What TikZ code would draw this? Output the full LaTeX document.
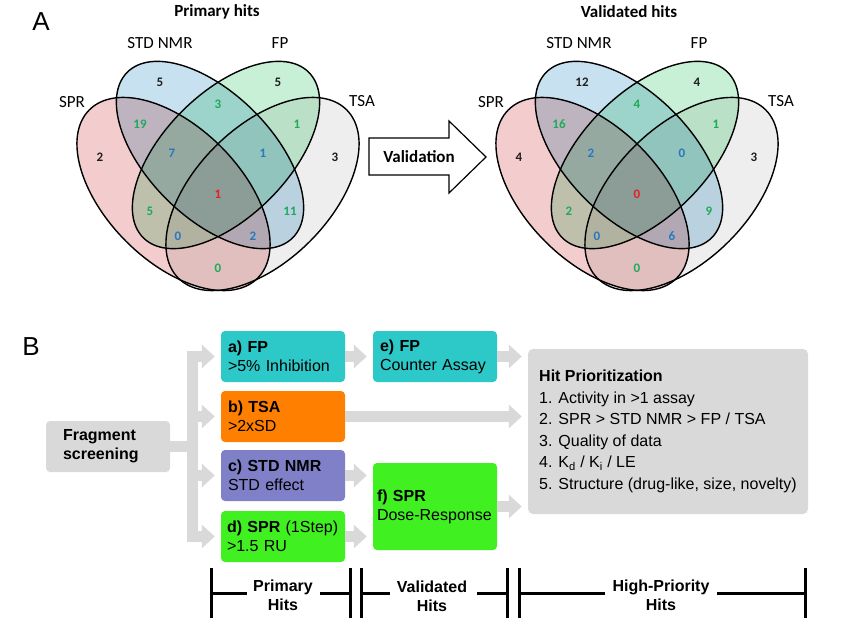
\documentclass[tikz,border=0pt]{standalone}
\usepackage{fontspec}
\setmainfont{Liberation Sans}
\newfontfamily\calfont{Carlito}
\usetikzlibrary{arrows.meta}
\definecolor{cSPR}{RGB}{243,205,205}
\definecolor{cSTD}{RGB}{200,225,240}
\definecolor{cFP}{RGB}{200,240,215}
\definecolor{cTSA}{RGB}{238,238,238}
\definecolor{ngreen}{RGB}{30,170,90}
\definecolor{nblue}{RGB}{40,120,190}
\definecolor{nred}{RGB}{230,30,40}
\definecolor{nblack}{RGB}{30,30,30}
\definecolor{boxteal}{RGB}{45,200,200}
\definecolor{boxorange}{RGB}{255,128,0}
\definecolor{boxpurple}{RGB}{128,128,200}
\definecolor{boxgreen}{RGB}{64,240,32}
\definecolor{boxgray}{RGB}{217,217,217}
\definecolor{arrowgray}{RGB}{217,217,217}
\newcommand\vennshapes{%
  \fill[cSPR,blend mode=multiply,rotate around={-45:(173.5,194)}] (173.5,194) ellipse [x radius=119,y radius=67];
  \fill[cSTD,blend mode=multiply,rotate around={-45:(210,155)}] (210,155) ellipse [x radius=117,y radius=62];
  \fill[cFP,blend mode=multiply,rotate around={45:(226,155)}] (226,155) ellipse [x radius=117,y radius=62];
  \fill[cTSA,blend mode=multiply,rotate around={45:(262.5,194)}] (262.5,194) ellipse [x radius=119,y radius=67];
  \draw[vline,rotate around={-45:(173.5,194)}] (173.5,194) ellipse [x radius=119,y radius=67];
  \draw[vline,rotate around={-45:(210,155)}] (210,155) ellipse [x radius=117,y radius=62];
  \draw[vline,rotate around={45:(226,155)}] (226,155) ellipse [x radius=117,y radius=62];
  \draw[vline,rotate around={45:(262.5,194)}] (262.5,194) ellipse [x radius=119,y radius=67];
  \node[vlab] at (72,102) {SPR};
  \node[vlab] at (160,43) {STD NMR};
  \node[vlab] at (280,43) {FP};
  \node[vlab] at (362,101) {TSA};
}
\begin{document}
\begin{tikzpicture}[x=1pt,y=-1pt,
  vline/.style={draw=black,line width=1.4pt},
  vlab/.style={font=\calfont\fontsize{17}{20}\selectfont,inner sep=0pt},
  vtitle/.style={font=\calfont\bfseries\fontsize{17}{20}\selectfont,inner sep=0pt},
  vnum/.style={font=\calfont\bfseries\fontsize{13}{15}\selectfont,inner sep=0pt},
  bbox/.style={rounded corners=4pt,minimum width=124pt,minimum height=51pt,inner xsep=7pt,inner ysep=0pt,
    text width=110pt,align=left,font=\fontsize{16}{19}\selectfont},
  garrow/.style={draw=arrowgray,line width=11pt,-{Triangle[length=13pt,width=23pt]},shorten >=6pt},
  gshaft/.style={draw=arrowgray,line width=11pt},
  brk/.style={draw=black,line width=3pt},
  blabel/.style={font=\bfseries\fontsize{16}{19}\selectfont,align=center,inner sep=0pt}]
\useasboundingbox (0,0) rectangle (850,628);
% ---------- Part A ----------
\node[font=\fontsize{26}{30}\selectfont,inner sep=0pt] (A) at (41,22) {A};
\node[vtitle] (t1) at (217,12) {Primary hits};
\node[vtitle] (t2) at (629,12) {Validated hits};
\begin{scope}
  \vennshapes
  \node[vnum,nblack] (l1) at (100,157) {2};
  \node[vnum,nblack] (l2) at (160,82) {5};
  \node[vnum,nblack] (l3) at (278,82) {5};
  \node[vnum,nblack] (l4) at (335,157) {3};
  \node[vnum,ngreen] (l5) at (218,104) {3};
  \node[vnum,ngreen] (l6) at (140,124) {19};
  \node[vnum,ngreen] (l7) at (297,124) {1};
  \node[vnum,nblue] (l8) at (172,153) {7};
  \node[vnum,nblue] (l9) at (263,153) {1};
  \node[vnum,nred] (l10) at (218,194) {1};
  \node[vnum,ngreen] (l11) at (150,211) {5};
  \node[vnum,ngreen] (l12) at (290,211) {11};
  \node[vnum,nblue] (l13) at (178,236) {0};
  \node[vnum,nblue] (l14) at (253,236) {2};
  \node[vnum,ngreen] (l15) at (218,268) {0};
\end{scope}
\begin{scope}[xshift=419pt]
  \vennshapes
  \node[vnum,nblack] (r1) at (100,157) {4};
  \node[vnum,nblack] (r2) at (163,82) {12};
  \node[vnum,nblack] (r3) at (278,82) {4};
  \node[vnum,nblack] (r4) at (335,157) {3};
  \node[vnum,ngreen] (r5) at (218,104) {4};
  \node[vnum,ngreen] (r6) at (140,124) {16};
  \node[vnum,ngreen] (r7) at (297,124) {1};
  \node[vnum,nblue] (r8) at (172,153) {2};
  \node[vnum,nblue] (r9) at (263,153) {0};
  \node[vnum,nred] (r10) at (218,194) {0};
  \node[vnum,ngreen] (r11) at (150,211) {2};
  \node[vnum,ngreen] (r12) at (290,211) {9};
  \node[vnum,nblue] (r13) at (178,236) {0};
  \node[vnum,nblue] (r14) at (253,236) {6};
  \node[vnum,ngreen] (r15) at (218,268) {0};
\end{scope}
% Validation arrow
\draw[fill=white,line width=1.2pt,line join=miter] (369,138) -- (449,138) -- (449,121) -- (486,157) -- (449,193) -- (449,175) -- (369,175) -- cycle;
\node[vtitle] (val) at (419,157) {Validation};
% ---------- Part B ----------
\node[font=\fontsize{26}{30}\selectfont,inner sep=0pt] (B) at (31,347) {B};
\node[bbox,fill=boxgray,inner xsep=17pt,text width=90pt,font=\bfseries\fontsize{16}{19}\selectfont] (frag) at (108,446.5) {Fragment\\screening};
\node[bbox,fill=boxteal] (a) at (283,356.5) {\textbf{a) FP}\\>5\% Inhibition};
\node[bbox,fill=boxorange] (b) at (283,416.5) {\textbf{b) TSA}\\>2xSD};
\node[bbox,fill=boxpurple] (c) at (283,475.5) {\textbf{c) STD NMR}\\STD effect};
\node[bbox,fill=boxgreen,inner xsep=6pt,text width=112pt] (d) at (283,536.5) {\textbf{d) SPR} (1Step)\\>1.5 RU};
\node[bbox,fill=boxteal] (e) at (435,356.5) {\textbf{e) FP}\\Counter Assay};
\node[bbox,fill=boxgreen,minimum height=87pt,inner xsep=4pt,text width=116pt] (f) at (435,506.5) {\textbf{f) SPR}\\Dose-Response};
\node[rounded corners=5pt,fill=boxgray,minimum width=280pt,minimum height=165pt,align=left,inner sep=0pt,
  font=\fontsize{16}{21.5}\selectfont] (hit) at (668,431.5)
  {\textbf{Hit Prioritization}\\1. Activity in >1 assay\\2. SPR > STD NMR > FP / TSA\\3. Quality of data\\4. K\textsubscript{d} / K\textsubscript{i} / LE\\5. Structure (drug-like, size, novelty)};
% gray arrows
\coordinate (tr) at (192,446.5);
\draw[gshaft] (frag.east) -- (tr);
\draw[gshaft,line cap=rect] (tr |- a.west) -- (tr |- d.west);
\draw[garrow] (tr |- a.west) -- (a.west);
\draw[garrow] (tr |- b.west) -- (b.west);
\draw[garrow] (tr |- c.west) -- (c.west);
\draw[garrow] (tr |- d.west) -- (d.west);
\draw[garrow] (a.east) -- (e.west);
\draw[garrow] (e.east) -- (hit.west |- e.east);
\draw[garrow] (b.east) -- (hit.west |- b.east);
\draw[garrow] (c.east) -- (f.west |- c.east);
\draw[garrow] (d.east) -- (f.west |- d.east);
\draw[garrow] (f.east) -- (hit.west |- f.east);
% brackets
\node[blabel] (prim) at (283,595) {Primary\\Hits};
\node[blabel] (vali) at (432,596) {Validated\\Hits};
\node[blabel] (high) at (661,595) {High-Priority\\Hits};
\draw[brk] (211,568) -- (211,618) (350,568) -- (350,618);
\draw[brk] (211,593) -- (247,593) (320,593) -- (350,593);
\draw[brk] (361,568) -- (361,618) (507,568) -- (507,618);
\draw[brk] (361,593) -- (390,593) (477,593) -- (507,593);
\draw[brk] (519,568) -- (519,618) (805,568) -- (805,618);
\draw[brk] (519,593) -- (605,593) (717,593) -- (805,593);
\end{tikzpicture}
\end{document}
